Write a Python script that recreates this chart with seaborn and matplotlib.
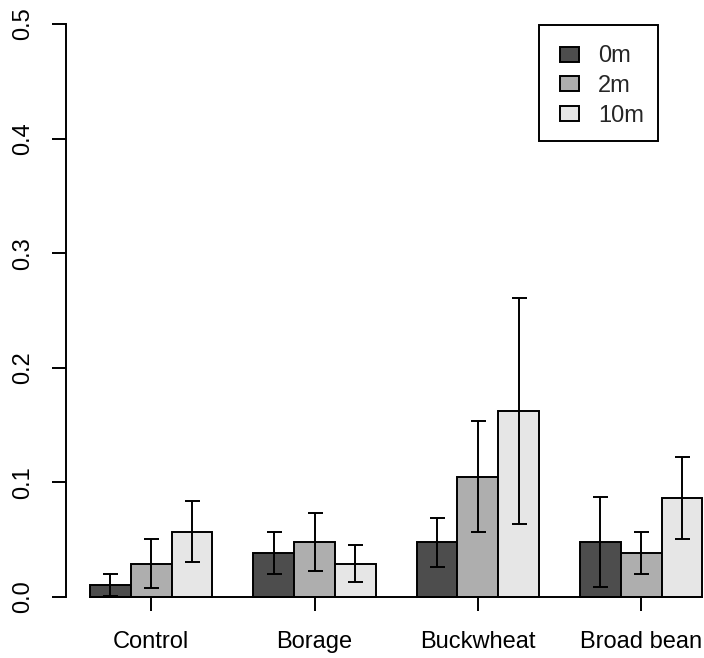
import matplotlib
matplotlib.use("Agg")
import matplotlib.pyplot as plt
from matplotlib.patches import Patch, Rectangle
import numpy as np
import pandas as pd
import seaborn as sns

# Treatments, distances and measured means with standard errors
crops = ["Control", "Borage", "Buckwheat", "Broad bean"]
distances = ["0m", "2m", "10m"]
mean_0m = [0.0105, 0.0384, 0.0477, 0.0477]
mean_2m = [0.0291, 0.0477, 0.1050, 0.0384]
mean_10m = [0.0570, 0.0291, 0.1620, 0.0861]
se_0m = [0.0096, 0.0185, 0.0213, 0.0391]
se_2m = [0.0213, 0.0253, 0.0484, 0.0186]
se_10m = [0.0268, 0.0160, 0.0985, 0.0357]
y_ticks = [0.0, 0.1, 0.2, 0.3, 0.4, 0.5]
bar_colors = ["#4D4D4D", "#AEAEAE", "#E6E6E6"]

means = [mean_0m, mean_2m, mean_10m]
ses = [se_0m, se_2m, se_10m]
df = pd.DataFrame({
    "crop": np.tile(crops, len(distances)),
    "dist": np.repeat(distances, len(crops)),
    "mean": np.concatenate(means),
    "se": np.concatenate(ses),
})

sns.set_style("white")
plt.rcParams["font.family"] = ["Liberation Sans", "DejaVu Sans"]

W, H = 704, 658
fs = 17
fig = plt.figure(figsize=(W / 100, H / 100), dpi=100)
ax = fig.add_axes([66 / W, (H - 620) / H, (W - 66) / W, 620 / H])

sns.barplot(data=df, x="crop", y="mean", hue="dist", order=crops,
            hue_order=distances, palette=bar_colors, saturation=1,
            width=0.75, edgecolor="black", linewidth=1.4, errorbar=None,
            legend=False, ax=ax)

# error bars at the centre of each bar
lw = 1.4
for container, m_list, s_list in zip(ax.containers, means, ses):
    xs = [p.get_x() + p.get_width() / 2 for p in container]
    ax.errorbar(xs, m_list, yerr=s_list, fmt="none", ecolor="black",
                elinewidth=lw, capsize=5.4, capthick=lw, zorder=5)

left_edge = min(p.get_x() for p in ax.patches)
right_edge = max(p.get_x() + p.get_width() for p in ax.patches)

ax.set_xlim(-0.5218, 3.385)
ax.set_ylim(-0.0201, 0.5209)
ax.set_yticks(y_ticks)
ax.set_yticklabels([f"{t:.1f}" for t in y_ticks], rotation=90, va="center")
ax.set_xlabel("")
ax.set_ylabel("")

for side in ["top", "right"]:
    ax.spines[side].set_visible(False)
# baseline under the bars carries the category ticks
ax.spines["bottom"].set_position(("data", 0))
ax.spines["bottom"].set_bounds(left_edge, right_edge)
ax.spines["left"].set_bounds(0, 0.5)
for side in ["left", "bottom"]:
    ax.spines[side].set_linewidth(lw)
    ax.spines[side].set_color("black")
    ax.spines[side].set_zorder(6)

ax.tick_params(axis="both", direction="out", length=10, width=lw,
               color="black", labelsize=fs, labelcolor="black",
               bottom=True, left=True)
ax.tick_params(axis="x", pad=14.5)
ax.tick_params(axis="y", pad=13)
ax.grid(False)

# legend box
fig.patches.append(Rectangle((539 / W, 1 - 140.7 / H), (658 - 539) / W,
                             (140.7 - 24.7) / H, transform=fig.transFigure,
                             facecolor="white", edgecolor="black", lw=lw,
                             zorder=10))
handles = [Patch(facecolor=c, edgecolor="black", lw=lw) for c in bar_colors]
leg = fig.legend(handles, distances, loc="upper left",
                 bbox_to_anchor=(560 / W, 1 - 45.5 / H),
                 bbox_transform=fig.transFigure, frameon=False,
                 fontsize=fs, borderpad=0, borderaxespad=0,
                 handlelength=0.82, handleheight=0.6, handletextpad=0.8,
                 labelspacing=0.33)
leg.set_zorder(11)

fig.savefig("out.png", dpi=100)
